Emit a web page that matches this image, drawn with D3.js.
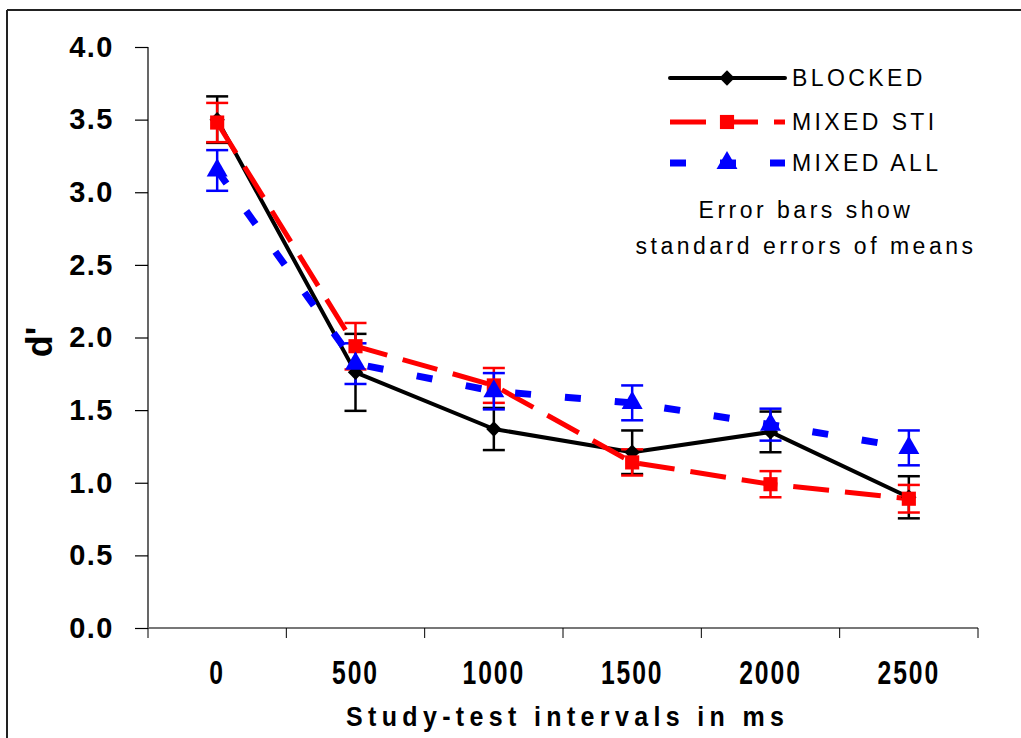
<!DOCTYPE html>
<html>
<head>
<meta charset="utf-8">
<script src="https://cdn.jsdelivr.net/npm/d3@7"></script>
<style>
  html, body { margin: 0; padding: 0; background: #fff; }
  svg { display: block; font-family: "Liberation Sans", Arial, sans-serif; }
</style>
</head>
<body>
<svg id="chart" width="1021" height="738"></svg>
<script>
// ---- data ----
const categories = ["0", "500", "1000", "1500", "2000", "2500"];
const yTicks = [0.0, 0.5, 1.0, 1.5, 2.0, 2.5, 3.0, 3.5, 4.0];
const seriesNames = ["BLOCKED", "MIXED STI", "MIXED ALL"];
const blockedValues = [3.50, 1.76, 1.37, 1.21, 1.35, 0.90];
const blockedErrors = [0.16, 0.265, 0.145, 0.15, 0.14, 0.145];
const mixedStiValues = [3.48, 1.94, 1.67, 1.14, 0.99, 0.89];
const mixedStiErrors = [0.135, 0.16, 0.12, 0.09, 0.09, 0.095];
const mixedAllValues = [3.15, 1.82, 1.63, 1.55, 1.40, 1.24];
const mixedAllErrors = [0.14, 0.14, 0.125, 0.12, 0.11, 0.12];
const noteLines = ["Error bars show", "standard errors of means"];
const xTitle = "Study-test intervals in ms";
const yTitle = "d'";

const svg = d3.select("#chart");

// frame (left & top borders)
svg.append("line").attr("x1", 7).attr("y1", 10).attr("x2", 1021).attr("y2", 10)
  .attr("stroke", "#222").attr("stroke-width", 2);
svg.append("line").attr("x1", 7).attr("y1", 10).attr("x2", 7).attr("y2", 738)
  .attr("stroke", "#222").attr("stroke-width", 2);

const x = d3.scaleBand().domain(categories).range([148, 978]).padding(0);
const y = d3.scaleLinear().domain([0, 4]).range([628, 47]);
const cx = c => x(c) + x.bandwidth() / 2;

// y axis
const yAxis = d3.axisLeft(y).tickValues(yTicks).tickFormat(d3.format(".1f"))
  .tickSize(13).tickPadding(21);
const gy = svg.append("g").attr("transform", "translate(148,0)").call(yAxis);
gy.select(".domain").attr("stroke", "#000").attr("stroke-width", 1.2).attr("d", "M0,47V628");
gy.selectAll(".tick line").attr("stroke", "#000").attr("stroke-width", 1.2);
gy.selectAll(".tick text").attr("font-size", 29).attr("font-weight", "bold")
  .attr("fill", "#000").attr("font-family", "'Liberation Sans', Arial, sans-serif")
  .style("letter-spacing", "1.5px");

// x axis
const gx = svg.append("g");
gx.append("line").attr("x1", 148).attr("x2", 978).attr("y1", 628).attr("y2", 628)
  .attr("stroke", "#777").attr("stroke-width", 2);
const bounds = categories.map(c => x(c)).concat([978]);
gx.selectAll("line.tk").data(bounds).join("line").attr("class", "tk")
  .attr("x1", d => d).attr("x2", d => d).attr("y1", 628).attr("y2", 638)
  .attr("stroke", "#000").attr("stroke-width", 1);
gx.selectAll("text.xl").data(categories).join("text").attr("class", "xl")
  .attr("transform", d => `translate(${cx(d)},684) scale(0.95,1.25)`)
  .attr("text-anchor", "middle").attr("font-size", 26).attr("font-weight", "bold")
  .style("letter-spacing", "2px").text(d => d);

// axis titles
svg.append("text").attr("transform", "translate(565,726) scale(1,1.1)")
  .attr("text-anchor", "middle").attr("font-size", 25).attr("font-weight", "bold")
  .attr("textLength", 438).attr("lengthAdjust", "spacing").text(xTitle);
svg.append("text").attr("transform", "translate(52,342) rotate(-90)")
  .attr("text-anchor", "middle").attr("font-size", 36).attr("font-weight", "bold")
  .text(yTitle);

// series
const series = [
  { name: seriesNames[0], values: blockedValues, errors: blockedErrors, color: "#000000",
    width: 4, dash: null, marker: "diamond" },
  { name: seriesNames[1], values: mixedStiValues, errors: mixedStiErrors, color: "#ff0000",
    width: 5, dash: "36,16", marker: "square" },
  { name: seriesNames[2], values: mixedAllValues, errors: mixedAllErrors, color: "#0000ff",
    width: 7, dash: "16,34", marker: "triangle" }
];

const line = d3.line().x((d, i) => cx(categories[i])).y(d => y(d));

const symbolFor = m => m === "diamond" ? d3.symbol(d3.symbolDiamond2, 150)
  : m === "square" ? d3.symbol(d3.symbolSquare, 200)
  : d3.symbol(d3.symbolTriangle, 190);

series.forEach(s => {
  svg.append("path").datum(s.values).attr("d", line).attr("fill", "none")
    .attr("stroke", s.color).attr("stroke-width", s.width)
    .attr("stroke-dasharray", s.dash).attr("stroke-linejoin", "round");
});

series.forEach(s => {
  const g = svg.append("g");
  s.values.forEach((v, i) => {
    const px = cx(categories[i]);
    const top = y(v + s.errors[i]), bot = y(v - s.errors[i]);
    g.append("line").attr("x1", px).attr("x2", px).attr("y1", top).attr("y2", bot)
      .attr("stroke", s.color).attr("stroke-width", 2.5);
    [top, bot].forEach(yy => g.append("line").attr("x1", px - 11).attr("x2", px + 11)
      .attr("y1", yy).attr("y2", yy).attr("stroke", s.color).attr("stroke-width", 2.5));
  });
});

series.forEach(s => {
  svg.append("g").selectAll("path").data(s.values).join("path")
    .attr("transform", (d, i) => `translate(${cx(categories[i])},${y(d)})`)
    .attr("d", symbolFor(s.marker)).attr("fill", s.color);
});

// legend
const legY = [78, 122, 163];
series.forEach((s, i) => {
  const g = svg.append("g");
  g.append("line").attr("x1", 670).attr("x2", 785).attr("y1", legY[i]).attr("y2", legY[i])
    .attr("stroke", s.color).attr("stroke-width", s.width)
    .attr("stroke-dasharray", s.dash).attr("stroke-linecap", i === 0 ? "round" : "butt");
  g.append("path").attr("transform", `translate(727,${legY[i]})`)
    .attr("d", symbolFor(s.marker)).attr("fill", s.color);
  g.append("text").attr("x", 792).attr("y", legY[i] + 8).attr("font-size", 23)
    .style("letter-spacing", "3.4px").text(s.name);
});

svg.selectAll("text.note").data(noteLines).join("text").attr("class", "note")
  .attr("x", 806).attr("y", (d, i) => 218 + i * 36).attr("text-anchor", "middle")
  .attr("font-size", 23).style("letter-spacing", "3.5px").text(d => d);
</script>
</body>
</html>
